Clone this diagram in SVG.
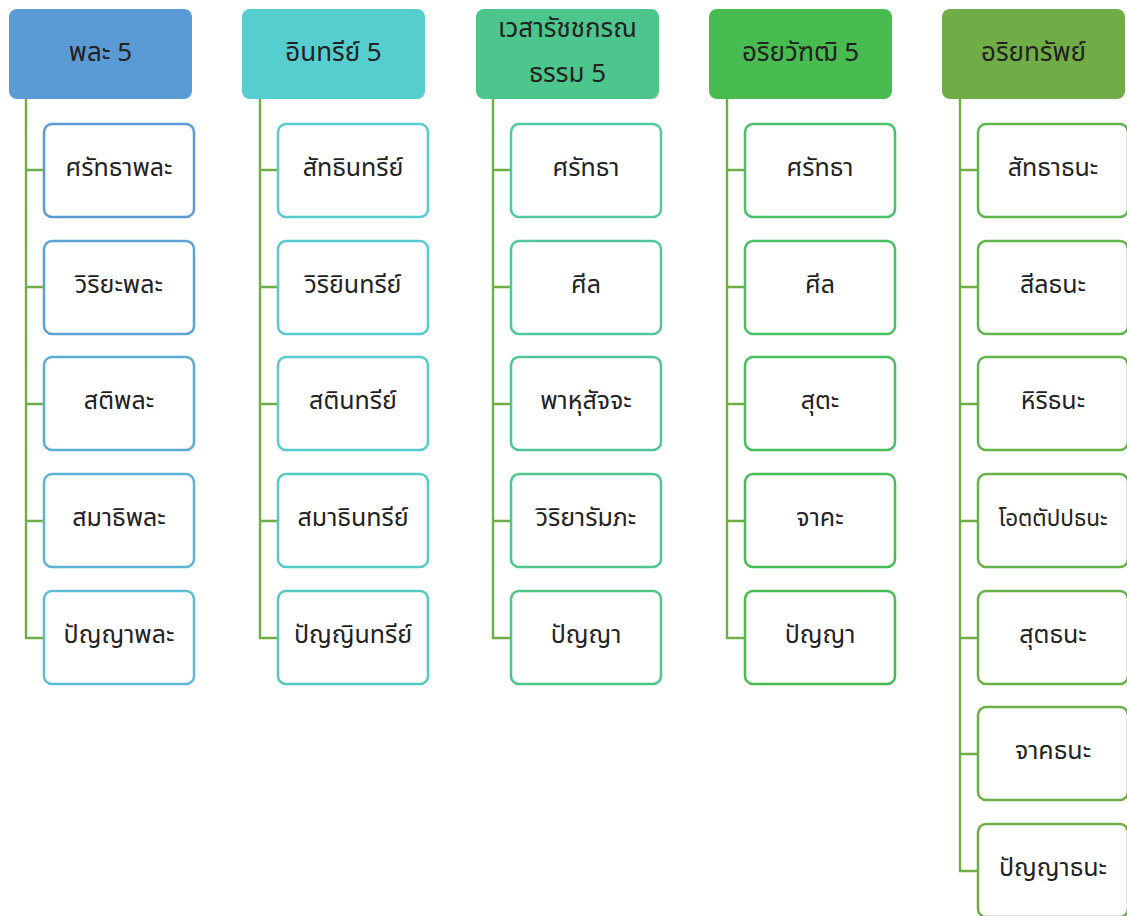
<svg xmlns="http://www.w3.org/2000/svg" width="1127" height="916" viewBox="0 0 1127 916">
<style>
text{font-family:"Noto Sans Thai","Noto Sans","DejaVu Sans",sans-serif;fill:#222;text-anchor:middle}
.h{font-size:26px}
.c{font-size:25px}
.box{fill:#fff;stroke-width:2.5}
.conn{fill:none;stroke:#70AD47;stroke-width:2.4}
</style>
<rect width="1127" height="916" fill="#fff"/>
<g id="connectors">
<path class="conn" d="M26,99 V638 H44 M26,170 H44 M26,287 H44 M26,404 H44 M26,521 H44"/>
<path class="conn" d="M260,99 V638 H278 M260,170 H278 M260,287 H278 M260,404 H278 M260,521 H278"/>
<path class="conn" d="M493,99 V638 H511 M493,170 H511 M493,287 H511 M493,404 H511 M493,521 H511"/>
<path class="conn" d="M727,99 V638 H745 M727,170 H745 M727,287 H745 M727,404 H745 M727,521 H745"/>
<path class="conn" d="M960,99 V871 H978 M960,170 H978 M960,287 H978 M960,404 H978 M960,521 H978 M960,638 H978 M960,754 H978"/>
</g>
<g id="h1"><rect x="9" y="9" width="183" height="90" rx="8" fill="#5B9BD5"/><text class="h" x="100.5" y="61">พละ 5</text></g>
<g id="h2"><rect x="242" y="9" width="183" height="90" rx="8" fill="#56CDCE"/><text class="h" x="333.5" y="61">อินทรีย์ 5</text></g>
<g id="h3"><rect x="476" y="9" width="183" height="90" rx="8" fill="#4DC68E"/><text class="h" x="567.5" y="37">เวสารัชชกรณ</text><text class="h" x="567.5" y="82">ธรรม 5</text></g>
<g id="h4"><rect x="709" y="9" width="183" height="90" rx="8" fill="#48BB51"/><text class="h" x="800.5" y="61">อริยวัฑฒิ 5</text></g>
<g id="h5"><rect x="942" y="9" width="183" height="90" rx="8" fill="#70AD47"/><text class="h" x="1033.5" y="61">อริยทรัพย์</text></g>

<g id="c1-1"><rect class="box" x="44" y="124" width="150" height="93" rx="8" stroke="#5B9BD5"/><text class="c" x="119" y="176">ศรัทธาพละ</text></g>
<g id="c1-2"><rect class="box" x="44" y="241" width="150" height="93" rx="8" stroke="#5BA3D5"/><text class="c" x="119" y="293">วิริยะพละ</text></g>
<g id="c1-3"><rect class="box" x="44" y="357" width="150" height="93" rx="8" stroke="#5BACD5"/><text class="c" x="119" y="409">สติพละ</text></g>
<g id="c1-4"><rect class="box" x="44" y="474" width="150" height="93" rx="8" stroke="#5BB4D5"/><text class="c" x="119" y="526">สมาธิพละ</text></g>
<g id="c1-5"><rect class="box" x="44" y="591" width="150" height="93" rx="8" stroke="#5BBDD5"/><text class="c" x="119" y="643">ปัญญาพละ</text></g>

<g id="c2-1"><rect class="box" x="278" y="124" width="150" height="93" rx="8" stroke="#56CBD0"/><text class="c" x="353" y="176">สัทธินทรีย์</text></g>
<g id="c2-2"><rect class="box" x="278" y="241" width="150" height="93" rx="8" stroke="#56CBCF"/><text class="c" x="353" y="293">วิริยินทรีย์</text></g>
<g id="c2-3"><rect class="box" x="278" y="357" width="150" height="93" rx="8" stroke="#55CBCB"/><text class="c" x="353" y="409">สตินทรีย์</text></g>
<g id="c2-4"><rect class="box" x="278" y="474" width="150" height="93" rx="8" stroke="#54CAC6"/><text class="c" x="353" y="526">สมาธินทรีย์</text></g>
<g id="c2-5"><rect class="box" x="278" y="591" width="150" height="93" rx="8" stroke="#52C9C0"/><text class="c" x="353" y="643">ปัญญินทรีย์</text></g>

<g id="c3-1"><rect class="box" x="511" y="124" width="150" height="93" rx="8" stroke="#50C8A2"/><text class="c" x="586" y="176">ศรัทธา</text></g>
<g id="c3-2"><rect class="box" x="511" y="241" width="150" height="93" rx="8" stroke="#4FC79B"/><text class="c" x="586" y="293">ศีล</text></g>
<g id="c3-3"><rect class="box" x="511" y="357" width="150" height="93" rx="8" stroke="#4EC795"/><text class="c" x="586" y="409">พาหุสัจจะ</text></g>
<g id="c3-4"><rect class="box" x="511" y="474" width="150" height="93" rx="8" stroke="#4DC68F"/><text class="c" x="586" y="526">วิริยารัมภะ</text></g>
<g id="c3-5"><rect class="box" x="511" y="591" width="150" height="93" rx="8" stroke="#4DC688"/><text class="c" x="586" y="643">ปัญญา</text></g>

<g id="c4-1"><rect class="box" x="745" y="124" width="150" height="93" rx="8" stroke="#4AC06A"/><text class="c" x="820" y="176">ศรัทธา</text></g>
<g id="c4-2"><rect class="box" x="745" y="241" width="150" height="93" rx="8" stroke="#49BF63"/><text class="c" x="820" y="293">ศีล</text></g>
<g id="c4-3"><rect class="box" x="745" y="357" width="150" height="93" rx="8" stroke="#48BE5D"/><text class="c" x="820" y="409">สุตะ</text></g>
<g id="c4-4"><rect class="box" x="745" y="474" width="150" height="93" rx="8" stroke="#48BD57"/><text class="c" x="820" y="526">จาคะ</text></g>
<g id="c4-5"><rect class="box" x="745" y="591" width="150" height="93" rx="8" stroke="#48BB51"/><text class="c" x="820" y="643">ปัญญา</text></g>

<g id="c5-1"><rect class="box" x="978" y="124" width="150" height="93" rx="8" stroke="#5CB74A"/><text class="c" x="1053" y="176">สัทธาธนะ</text></g>
<g id="c5-2"><rect class="box" x="978" y="241" width="150" height="93" rx="8" stroke="#5FB549"/><text class="c" x="1053" y="293">สีลธนะ</text></g>
<g id="c5-3"><rect class="box" x="978" y="357" width="150" height="93" rx="8" stroke="#63B348"/><text class="c" x="1053" y="409">หิริธนะ</text></g>
<g id="c5-4"><rect class="box" x="978" y="474" width="150" height="93" rx="8" stroke="#66B248"/><text class="c" x="1053" y="526" style="font-size:22.5px">โอตตัปปธนะ</text></g>
<g id="c5-5"><rect class="box" x="978" y="591" width="150" height="93" rx="8" stroke="#69B047"/><text class="c" x="1053" y="643">สุตธนะ</text></g>
<g id="c5-6"><rect class="box" x="978" y="707" width="150" height="93" rx="8" stroke="#6CAF47"/><text class="c" x="1053" y="759">จาคธนะ</text></g>
<g id="c5-7"><rect class="box" x="978" y="824" width="150" height="93" rx="8" stroke="#70AD47"/><text class="c" x="1053" y="876">ปัญญาธนะ</text></g>
</svg>
